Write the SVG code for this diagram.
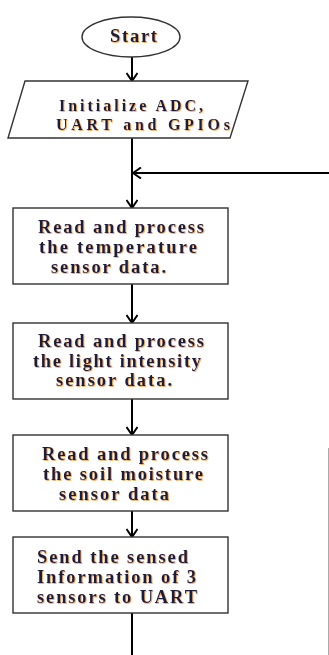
<svg xmlns="http://www.w3.org/2000/svg" width="329" height="655" viewBox="0 0 329 655">
<defs>
<filter id="sh" x="-5%" y="-20%" width="110%" height="140%">
<feDropShadow dx="0.8" dy="0.8" stdDeviation="0.3" flood-color="#e08a20" flood-opacity="0.8"/>
</filter>
<marker id="ah" viewBox="0 0 10 12" refX="9" refY="6" markerWidth="10" markerHeight="12" markerUnits="userSpaceOnUse" orient="auto">
<path d="M1,0.5 L9,6 L1,11.5" fill="none" stroke="#000" stroke-width="2"/>
</marker>
</defs>
<style>
.shape{fill:#fff;stroke:#333;stroke-width:1.4}
.t{font-family:"Liberation Serif","Times New Roman",serif;font-weight:bold;font-size:18.5px;fill:#1a1a3a;filter:url(#sh)}
.s{font-size:16px}
.c{fill:none;stroke:#000;stroke-width:2}
</style>
<rect width="329" height="655" fill="#fff"/>
<g id="connectors">
<line class="c" x1="132" y1="57" x2="132" y2="81" marker-end="url(#ah)"/>
<line class="c" x1="132" y1="138" x2="132" y2="208" marker-end="url(#ah)"/>
<line class="c" x1="329" y1="173" x2="133" y2="173" marker-end="url(#ah)"/>
<line class="c" x1="132" y1="284" x2="132" y2="323" marker-end="url(#ah)"/>
<line class="c" x1="132" y1="399" x2="132" y2="435" marker-end="url(#ah)"/>
<line class="c" x1="132" y1="511" x2="132" y2="537" marker-end="url(#ah)"/>
<line class="c" x1="132" y1="613" x2="132" y2="655"/>
<line x1="328.5" y1="448" x2="328.5" y2="655" stroke="#aaa" stroke-width="1"/>
</g>
<g id="start">
<ellipse class="shape" cx="131" cy="37" rx="49" ry="20"/>
<text class="t" x="110" y="42" textLength="47" lengthAdjust="spacing">Start</text>
</g>
<g id="init">
<polygon class="shape" points="25,81 248,81 230,138 8,138"/>
<text class="t s" x="59" y="111" textLength="144" lengthAdjust="spacing">Initialize ADC,</text>
<text class="t s" x="56" y="130" textLength="174" lengthAdjust="spacing">UART and GPIOs</text>
</g>
<g id="temp">
<rect class="shape" x="13" y="208" width="215" height="76"/>
<text class="t" x="38" y="233" textLength="166" lengthAdjust="spacing">Read and process</text>
<text class="t" x="39" y="253" textLength="158" lengthAdjust="spacing">the temperature</text>
<text class="t" x="51" y="273" textLength="115" lengthAdjust="spacing">sensor data.</text>
</g>
<g id="light">
<rect class="shape" x="13" y="323" width="215" height="76"/>
<text class="t" x="38" y="347" textLength="166" lengthAdjust="spacing">Read and process</text>
<text class="t" x="33" y="367" textLength="168" lengthAdjust="spacing">the light intensity</text>
<text class="t" x="56" y="386" textLength="116" lengthAdjust="spacing">sensor data.</text>
</g>
<g id="soil">
<rect class="shape" x="13" y="435" width="215" height="76"/>
<text class="t" x="42" y="460" textLength="166" lengthAdjust="spacing">Read and process</text>
<text class="t" x="43" y="480" textLength="160" lengthAdjust="spacing">the soil moisture</text>
<text class="t" x="59" y="500" textLength="110" lengthAdjust="spacing">sensor data</text>
</g>
<g id="send">
<rect class="shape" x="13" y="537" width="215" height="76"/>
<text class="t" x="37" y="563" textLength="151" lengthAdjust="spacing">Send the sensed</text>
<text class="t" x="37" y="583" textLength="159" lengthAdjust="spacing">Information of 3</text>
<text class="t" x="37" y="603" textLength="160" lengthAdjust="spacing">sensors to UART</text>
</g>
</svg>
